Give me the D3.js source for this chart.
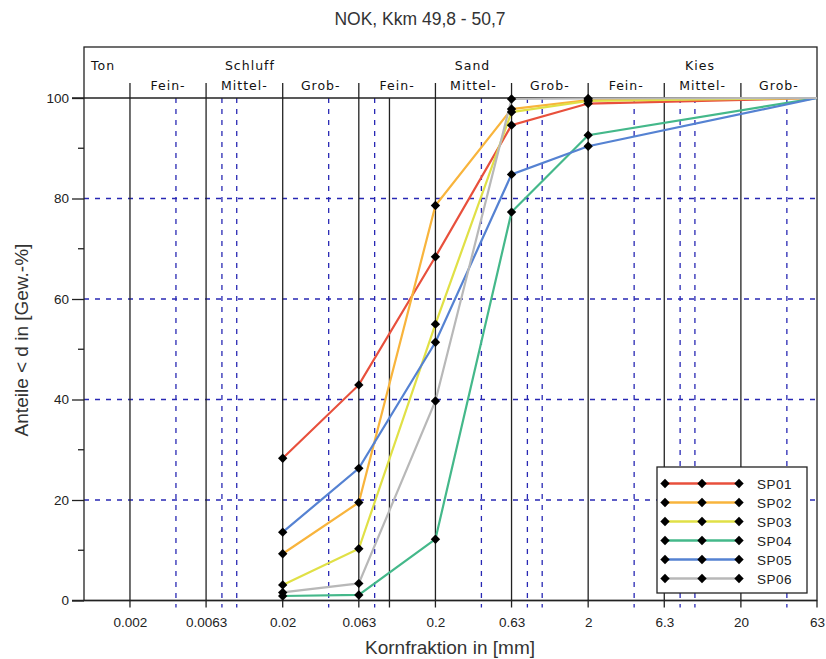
<!DOCTYPE html>
<html>
<head>
<meta charset="utf-8">
<script src="https://cdn.jsdelivr.net/npm/d3@7/dist/d3.min.js"></script>
<style>
  body { margin: 0; background: #fff; }
  svg { display: block; font-family: "Liberation Sans", Arial, sans-serif; }
</style>
</head>
<body>
<svg id="chart" width="826" height="659"></svg>
<script>
// Sieve sizes (mm) at which passing fractions were measured
const sieveSizes = [0.02, 0.063, 0.2, 0.63, 2, 63];

// Passing percentages per sample
const seriesNames = ["SP01", "SP02", "SP03", "SP04", "SP05", "SP06"];
const sp01 = [28.3, 42.9, 68.4, 94.6, 98.9, 100];
const sp02 = [9.3, 19.5, 78.6, 97.8, 99.6, 100];
const sp03 = [3.1, 10.3, 55.0, 97.2, 99.4, 100];
const sp04 = [0.9, 1.1, 12.2, 77.3, 92.6, 100];
const sp05 = [13.6, 26.3, 51.4, 84.8, 90.4, 100];
const sp06 = [1.6, 3.4, 39.7, 99.8, 99.9, 100];
const seriesColors = ["#e8503c", "#f8b43c", "#e0e046", "#44b88a", "#5582d2", "#b8b8b8"];

// Axis ticks
const xTickLabels = ["0.002", "0.0063", "0.02", "0.063", "0.2", "0.63", "2", "6.3", "20", "63"];
const xTickValues = [0.002, 0.0063, 0.02, 0.063, 0.2, 0.63, 2, 6.3, 20, 63];
const solidGrid = [0.002, 0.0063, 0.02, 0.063, 0.1, 0.2, 0.63, 2, 6.3, 20];
const dashedGrid = [0.004, 0.008, 0.01, 0.04, 0.08, 0.4, 0.8, 1, 4, 8, 10, 40];
const yMajor = [0, 20, 40, 60, 80, 100];
const yMinor = [10, 30, 50, 70, 90];
const yDashed = [20, 40, 60, 80];

// Soil class header
const classNames = [
  { label: "Schluff", x: 0.0122 },
  { label: "Sand", x: 0.35 },
  { label: "Kies", x: 10.8 }
];
const subClassBounds = [0.002, 0.0063, 0.02, 0.063, 0.2, 0.63, 2, 6.3, 20, 63];
const subClassNames = ["Fein-", "Mittel-", "Grob-", "Fein-", "Mittel-", "Grob-", "Fein-", "Mittel-", "Grob-"];

const svg = d3.select("#chart");
const x = d3.scaleLog().domain([0.001, 63]).range([84, 817]);
const y = d3.scaleLinear().domain([0, 100]).range([600.5, 98]);
const headerTop = 47;

const gridColor = "#2828b4";

// Dashed grid
svg.append("g").selectAll("line").data(dashedGrid).join("line")
  .attr("x1", d => x(d)).attr("x2", d => x(d))
  .attr("y1", y(100)).attr("y2", y(0) + 7)
  .attr("stroke", gridColor).attr("stroke-width", 1.3).attr("stroke-dasharray", "5,6");
svg.append("g").selectAll("line").data(yDashed).join("line")
  .attr("x1", x(0.001)).attr("x2", x(63))
  .attr("y1", d => y(d)).attr("y2", d => y(d))
  .attr("stroke", gridColor).attr("stroke-width", 1.3).attr("stroke-dasharray", "5,6");

// Solid grid
svg.append("g").selectAll("line").data(solidGrid).join("line")
  .attr("x1", d => x(d)).attr("x2", d => x(d))
  .attr("y1", y(100)).attr("y2", y(0) + 7)
  .attr("stroke", "#222").attr("stroke-width", 1.3);

// Frame
svg.append("rect").attr("x", x(0.001)).attr("y", headerTop)
  .attr("width", x(63) - x(0.001)).attr("height", y(0) - headerTop)
  .attr("fill", "none").attr("stroke", "#222").attr("stroke-width", 1.3);
svg.append("line").attr("x1", 72).attr("x2", x(63)).attr("y1", y(100)).attr("y2", y(100))
  .attr("stroke", "#222").attr("stroke-width", 1.3);
svg.append("line").attr("x1", 72).attr("x2", x(63)).attr("y1", y(0)).attr("y2", y(0))
  .attr("stroke", "#222").attr("stroke-width", 1.3);
svg.append("line").attr("x1", x(63)).attr("x2", x(63)).attr("y1", y(0)).attr("y2", y(0) + 7)
  .attr("stroke", "#222").attr("stroke-width", 1.3);

// Header separators
svg.append("g").selectAll("line").data(subClassBounds.slice(0, -1)).join("line")
  .attr("x1", d => x(d)).attr("x2", d => x(d))
  .attr("y1", 83).attr("y2", y(100))
  .attr("stroke", "#222").attr("stroke-width", 1.3);

// Header texts
const hdr = svg.append("g").attr("font-size", 12.5).attr("fill", "#111")
  .attr("letter-spacing", "1px").attr("font-family", "'DejaVu Sans', sans-serif");
hdr.append("text").attr("x", 91).attr("y", 70).text("Ton");
hdr.selectAll("text.cls").data(classNames).join("text")
  .attr("class", "cls")
  .attr("x", d => x(d.x))
  .attr("text-anchor", "middle")
  .attr("y", 70).text(d => d.label);
hdr.selectAll("text.sub").data(subClassNames).join("text")
  .attr("class", "sub")
  .attr("x", (d, i) => (x(subClassBounds[i]) + x(subClassBounds[i + 1])) / 2)
  .attr("text-anchor", "middle")
  .attr("y", 90).text(d => d);

// Y axis
const yAxis = d3.axisLeft(y).tickValues(yMajor).tickSize(12).tickPadding(3).tickFormat(d3.format("d"));
const yg = svg.append("g").attr("transform", `translate(${x(0.001)},0)`).call(yAxis);
yg.select(".domain").remove();
yg.selectAll(".tick line").attr("stroke", "#222").attr("stroke-width", 1.3);
yg.selectAll(".tick text").attr("font-size", 13.5).attr("fill", "#222")
  .attr("font-family", "'Liberation Sans', Arial, sans-serif");
svg.append("g").selectAll("line").data(yMinor).join("line")
  .attr("x1", x(0.001) - 6).attr("x2", x(0.001))
  .attr("y1", d => y(d)).attr("y2", d => y(d))
  .attr("stroke", "#222").attr("stroke-width", 1.3);

// X axis labels
const xAxis = d3.axisBottom(x).tickValues(xTickValues).tickSize(0).tickPadding(17)
  .tickFormat((d, i) => xTickLabels[i]);
const xg = svg.append("g").attr("transform", `translate(0,${y(0)})`).call(xAxis);
xg.select(".domain").remove();
xg.selectAll(".tick text").attr("font-size", 13.5).attr("fill", "#222")
  .attr("font-family", "'Liberation Sans', Arial, sans-serif");

// Curves
const allSeries = [sp01, sp02, sp03, sp04, sp05, sp06];
const line = d3.line().x((d, i) => x(sieveSizes[i])).y(d => y(d));
const diamond = d3.symbol().type(d3.symbolDiamond2).size(56);
const curves = svg.append("g");
allSeries.forEach((vals, k) => {
  curves.append("path").datum(vals)
    .attr("d", line).attr("fill", "none")
    .attr("stroke", seriesColors[k]).attr("stroke-width", 2.2);
});
allSeries.forEach((vals) => {
  curves.append("g").selectAll("path").data(vals.slice(0, -1)).join("path")
    .attr("d", diamond)
    .attr("transform", (d, i) => `translate(${x(sieveSizes[i])},${y(d)})`)
    .attr("fill", "#000");
});

// Legend
const lg = svg.append("g");
lg.append("rect").attr("x", 657).attr("y", 467).attr("width", 150).attr("height", 126)
  .attr("fill", "#fff").attr("stroke", "#222").attr("stroke-width", 1.3);
seriesNames.forEach((name, k) => {
  const ry = 483.5 + k * 19;
  lg.append("line").attr("x1", 665).attr("x2", 739).attr("y1", ry).attr("y2", ry)
    .attr("stroke", seriesColors[k]).attr("stroke-width", 2.4);
  [665, 702, 739].forEach(px => {
    lg.append("path").attr("d", diamond).attr("transform", `translate(${px},${ry})`).attr("fill", "#000");
  });
  lg.append("text").attr("x", 757).attr("y", ry + 5).attr("font-size", 13.5)
    .attr("fill", "#222").attr("letter-spacing", "0.5px").text(name);
});

// Titles
svg.append("text").attr("x", 420).attr("y", 25).attr("text-anchor", "middle")
  .attr("font-size", 17.5).attr("fill", "#333").text("NOK, Kkm 49,8 - 50,7");
svg.append("text").attr("x", 450).attr("y", 654).attr("text-anchor", "middle")
  .attr("font-size", 19).attr("fill", "#333").text("Kornfraktion in [mm]");
svg.append("text").attr("transform", "translate(28,340) rotate(-90)").attr("text-anchor", "middle")
  .attr("font-size", 19).attr("fill", "#333").text("Anteile < d in [Gew.-%]");
</script>
</body>
</html>
